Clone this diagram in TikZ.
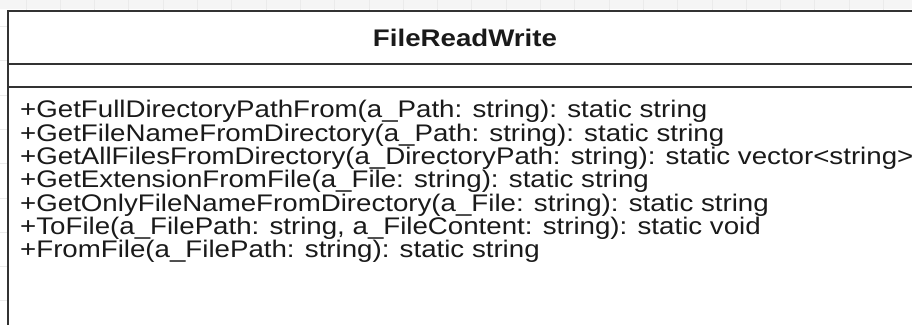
\documentclass[tikz,border=0pt]{standalone}
\usepackage{fontspec}
\setmainfont[FakeStretch=1.153]{Liberation Sans}
\definecolor{gridc}{HTML}{EBEBEB}
\definecolor{topc}{HTML}{F5F5F5}
\definecolor{boxc}{HTML}{333333}
\definecolor{txtc}{HTML}{1A1A1A}
\tikzset{
  gridline/.style={draw=gridc, line width=1pt},
  classbox/.style={draw=boxc, line width=2pt, fill=white},
  divider/.style={draw=boxc, line width=2pt},
  member/.style={anchor=base west, inner sep=0pt, text=txtc, font=\fontsize{24}{24}\selectfont},
  titletext/.style={anchor=base, inner sep=0pt, text=txtc, font=\fontsize{24}{24}\selectfont\bfseries}
}
\begin{document}
\begin{tikzpicture}[x=1pt,y=-1pt]
\useasboundingbox (0,0) rectangle (912,324);
\clip (0,0) rectangle (912,324);
\fill[white] (0,0) rectangle (912,324);
\fill[topc] (0,0) rectangle (912,9);
\foreach \i in {0,...,26} {\draw[gridline] (26+34.3*\i,0) -- (26+34.3*\i,324);}
\foreach \j in {0,...,9} {\draw[gridline] (0,26.5+34.3*\j) -- (912,26.5+34.3*\j);}
\draw[classbox] (7.5,11) rectangle (922.5,345);
\coordinate (dl1) at (7.5,63.5);
\coordinate (dr1) at (922.5,63.5);
\coordinate (dl2) at (7.5,86.5);
\coordinate (dr2) at (922.5,86.5);
\draw[divider] (dl1) -- (dr1);
\draw[divider] (dl2) -- (dr2);
\node[titletext] (title) at (465,46.5) {FileReadWrite};
\node[member] (m1) at (20,117.8) {+GetFullDirectoryPathFrom(a\_Path: string): static string};
\node[member] (m2) at (20,141.1) {+GetFileNameFromDirectory(a\_Path: string): static string};
\node[member] (m3) at (20,164.5) {+GetAllFilesFromDirectory(a\_DirectoryPath: string): static vector<string>};
\node[member] (m4) at (20,187.8) {+GetExtensionFromFile(a\_File: string): static string};
\node[member] (m5) at (20,211.1) {+GetOnlyFileNameFromDirectory(a\_File: string): static string};
\node[member] (m6) at (20,234.5) {+ToFile(a\_FilePath: string, a\_FileContent: string): static void};
\node[member] (m7) at (20,257.8) {+FromFile(a\_FilePath: string): static string};
\end{tikzpicture}
\end{document}
